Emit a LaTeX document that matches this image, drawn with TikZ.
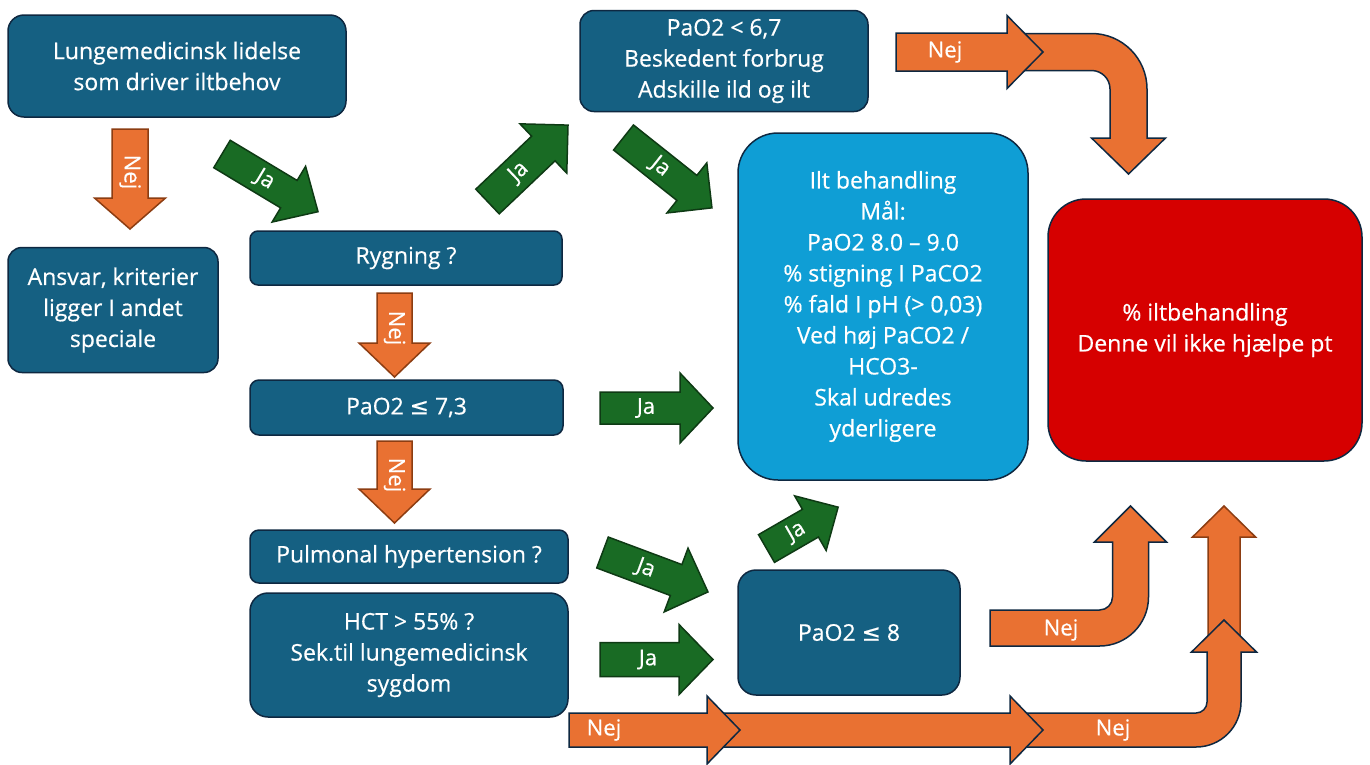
\documentclass[tikz,border=0pt]{standalone}
\usepackage{fontspec}
\setmainfont{Open Sans}[FakeBold=0.5]
\newfontfamily\symf{DejaVu Sans}[FakeBold=0.3]
\definecolor{boxblue}{HTML}{156082}
\definecolor{navy}{HTML}{0E2841}
\definecolor{lightblue}{HTML}{0F9ED5}
\definecolor{redbox}{HTML}{D60000}
\definecolor{orangef}{HTML}{E97132}
\definecolor{orangeline}{HTML}{8C3D12}
\definecolor{greenf}{HTML}{196B24}
\definecolor{greenline}{HTML}{0E3A14}
\tikzset{
  box/.style={draw=navy, line width=1.5pt, fill=boxblue, text=white, align=center,
    inner sep=0pt, font=\fontsize{23}{31}\selectfont},
  lbl/.style={text=white, inner sep=0pt, font=\fontsize{22}{26}\selectfont},
  orgB/.style={fill=orangef, draw=orangeline, line width=1.5pt, line join=miter},
  orgN/.style={fill=orangef, draw=navy, line width=1.5pt, line join=miter},
  grn/.style={fill=greenf, draw=greenline, line width=1.5pt, line join=miter},
}
% straight block arrow: name, style, x, y, angle, length, label position, label
\newcommand\setarrow[3]{\def\aS{#1}\def\aH{#2}\def\ah{#3}}
\newcommand\blockarrow[8]{%
  \begin{scope}[shift={(#3,#4)},rotate=#5]
    \filldraw[#2] (0,{-\aS/2}) -- ({#6-\ah},{-\aS/2}) -- ({#6-\ah},{-\aH/2}) -- (#6,0)
      -- ({#6-\ah},{\aH/2}) -- ({#6-\ah},{\aS/2}) -- (0,{\aS/2}) -- cycle;
    \if\relax\detokenize{#8}\relax\else
      \node[lbl,rotate=#5] (#1) at (#7,0) {#8};
    \fi
  \end{scope}}
% bent block arrow: x0, yc, xc, yb, yt, half width, half head, radius, direction (1 down, -1 up)
\newcommand\bentarrow[9]{%
  \pgfmathsetmacro\bRo{0.5523*(#8+#6)}%
  \pgfmathsetmacro\bRi{0.5523*(#8-#6)}%
  \filldraw[orgN] (#1,{#2-(#9)*#6}) -- ({#3-#8},{#2-(#9)*#6})
    .. controls ({#3-#8+\bRo},{#2-(#9)*#6}) and ({#3+#6},{#2+(#9)*#8-(#9)*\bRo}) .. ({#3+#6},{#2+(#9)*#8})
    -- ({#3+#6},#4) -- ({#3+#7},#4) -- (#3,#5) -- ({#3-#7},#4) -- ({#3-#6},#4)
    -- ({#3-#6},{#2+(#9)*#8})
    .. controls ({#3-#6},{#2+(#9)*#8-(#9)*\bRi}) and ({#3-#8+\bRi},{#2+(#9)*#6}) .. ({#3-#8},{#2+(#9)*#6})
    -- (#1,{#2+(#9)*#6}) -- cycle;}
\begin{document}
\begin{tikzpicture}[x=1pt,y=-1pt]
\useasboundingbox[fill=white] (0,0) rectangle (1370,764);

% boxes
\node[box, rounded corners=16pt, minimum width=338pt, minimum height=102pt] (b1) at (177,66)
  {Lungemedicinsk lidelse\\som driver iltbehov};
\node[box, rounded corners=14pt, minimum width=210pt, minimum height=125pt] (b2) at (113,310)
  {Ansvar, kriterier\\ligger I andet\\speciale};
\node[box, rounded corners=8pt, minimum width=312pt, minimum height=54pt] (ryg) at (406,258)
  {Rygning ?};
\node[box, rounded corners=9pt, minimum width=313pt, minimum height=55pt] (pao73) at (406.5,407.5)
  {PaO2 {\symf ≤} 7,3};
\node[box, rounded corners=9pt, minimum width=318pt, minimum height=53pt] (pulm) at (409,556.5)
  {Pulmonal hypertension ?};
\node[box, rounded corners=18pt, minimum width=318pt, minimum height=124pt] (hct) at (409,655)
  {HCT > 55\% ?\\Sek.til lungemedicinsk\\sygdom};
\node[box, rounded corners=14pt, minimum width=288pt, minimum height=101pt] (pao67) at (724,61)
  {PaO2 < 6,7\\Beskedent forbrug\\Adskille ild og ilt};
\node[box, fill=lightblue, rounded corners=40pt, minimum width=290pt, minimum height=347pt] (ilt) at (883,306.5)
  {Ilt behandling\\Mål:\\PaO2 8.0 – 9.0\\\% stigning I PaCO2\\\% fald I pH (> 0,03)\\Ved høj PaCO2 /\\HCO3-\\Skal udredes\\yderligere};
\node[box, fill=redbox, rounded corners=38pt, minimum width=314pt, minimum height=262pt] (red) at (1205,330)
  {\% iltbehandling\\Denne vil ikke hjælpe pt};
\node[box, rounded corners=18pt, minimum width=222pt, minimum height=125pt] (pao8) at (849,632.5)
  {PaO2 {\symf ≤} 8};

% straight arrows
\setarrow{36}{71}{31}
\blockarrow{l1}{orgB}{130}{129}{-90}{100}{43}{Nej}
\setarrow{32}{65}{34}
\blockarrow{l2}{grn}{222}{154}{-31}{112}{50}{Ja}
\setarrow{34}{68}{34}
\blockarrow{l3}{grn}{487.5}{201.5}{43.5}{111}{43}{Ja}
\setarrow{32}{64}{32}
\blockarrow{l4}{grn}{623.5}{137.5}{-38.5}{113}{47}{Ja}
\setarrow{35}{71}{34}
\blockarrow{l5}{orgB}{394.5}{293}{-90}{84}{35}{Nej}
\setarrow{32}{70}{33}
\blockarrow{l6}{grn}{600}{408}{0}{113}{46}{Ja}
\setarrow{35}{71}{34}
\blockarrow{l7}{orgB}{394.5}{441}{-90}{82}{34}{Nej}
\setarrow{33}{68}{34}
\blockarrow{l8}{grn}{602.5}{552.5}{-20.5}{112.6}{46}{Ja}
\setarrow{34}{70}{34}
\blockarrow{l9}{grn}{600}{659.5}{0}{113}{48}{Ja}
\setarrow{32}{63}{32}
\blockarrow{l10}{grn}{766.5}{548.5}{30}{82.7}{34}{Ja}

% top right: bent then straight
\bentarrow{1020}{52}{1128.5}{138}{174}{18.5}{37}{37}{1}
\setarrow{38}{73}{36}
\blockarrow{l11}{orgN}{896}{52}{0}{147}{49}{Nej}

% from PaO2 <= 8
\bentarrow{990}{628}{1130.5}{542}{506}{18}{36}{31}{-1}
\node[lbl] (l12) at (1061,630) {Nej};

% bottom chain
\setarrow{32}{63}{31}
\blockarrow{v1}{orgB}{1224}{680}{90}{174}{0}{}
\bentarrow{1020}{730}{1224}{652}{620}{17}{32.5}{28}{-1}
\node[lbl] (l13) at (1113,730) {Nej};
\setarrow{34}{68}{33}
\blockarrow{h2}{orgN}{720}{730}{0}{323}{0}{}
\blockarrow{l14}{orgN}{569}{730}{0}{171}{35}{Nej}
\end{tikzpicture}
\end{document}
